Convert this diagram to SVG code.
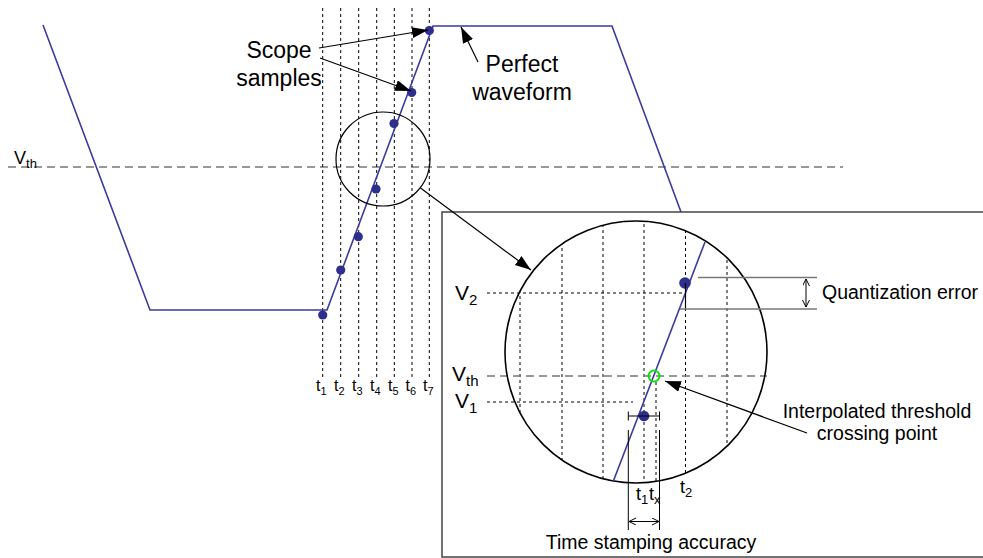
<svg xmlns="http://www.w3.org/2000/svg" width="983" height="558" viewBox="0 0 983 558">
<style>
text{font-family:"Liberation Sans",Arial,sans-serif;fill:#000}
.lbl{font-size:23px}
.mid{font-size:19.5px}
.wave{fill:none;stroke:#3a3aa0;stroke-width:1.6}
.dot{fill:#2e2e8e}
.vd{stroke:#000;stroke-width:1;stroke-dasharray:3,3;fill:none}
.th{stroke:#777;stroke-width:1.6;stroke-dasharray:8,5;fill:none}
.ar{stroke:#000;stroke-width:1.2;fill:none;marker-end:url(#ah)}
.dim{stroke:#000;stroke-width:1;fill:none}
.q{stroke:#777;stroke-width:1.6;fill:none}
</style>
<defs>
<marker id="ah" markerUnits="userSpaceOnUse" markerWidth="17" markerHeight="12" refX="16" refY="5.5" orient="auto"><path d="M0,0 L16,5.5 L0,11 z" fill="#000"/></marker>
<marker id="oa" markerUnits="userSpaceOnUse" markerWidth="8" markerHeight="8" refX="7" refY="3.5" orient="auto-start-reverse"><path d="M0,0 L7,3.5 L0,7" fill="none" stroke="#000" stroke-width="1"/></marker>
<clipPath id="cc"><circle cx="636" cy="352" r="131"/></clipPath>
</defs>
<rect width="983" height="558" fill="#fff"/>

<g id="threshold-line"><line class="th" x1="8" y1="167" x2="843" y2="167"/>
<text x="14" y="164" font-size="18">V<tspan font-size="13" dy="4">th</tspan></text></g>

<g id="sample-lines">
<line class="vd" x1="322.7" y1="8" x2="322.7" y2="377"/>
<line class="vd" x1="340.7" y1="8" x2="340.7" y2="377"/>
<line class="vd" x1="358.7" y1="8" x2="358.7" y2="377"/>
<line class="vd" x1="376.7" y1="8" x2="376.7" y2="377"/>
<line class="vd" x1="394.3" y1="8" x2="394.3" y2="377"/>
<line class="vd" x1="412" y1="8" x2="412" y2="377"/>
<line class="vd" x1="429.3" y1="8" x2="429.3" y2="377"/>
<g font-size="16">
<text x="316" y="391">t<tspan font-size="11" dy="4">1</tspan></text>
<text x="334" y="391">t<tspan font-size="11" dy="4">2</tspan></text>
<text x="352" y="391">t<tspan font-size="11" dy="4">3</tspan></text>
<text x="370" y="391">t<tspan font-size="11" dy="4">4</tspan></text>
<text x="388" y="391">t<tspan font-size="11" dy="4">5</tspan></text>
<text x="405.5" y="391">t<tspan font-size="11" dy="4">6</tspan></text>
<text x="423" y="391">t<tspan font-size="11" dy="4">7</tspan></text>
</g></g>

<g id="waveform">
<polyline class="wave" points="43,25 150,310 327,310 433,26 612,26 681,212"/>
</g>

<g id="samples">
<circle class="dot" cx="322.7" cy="315" r="4.6"/>
<circle class="dot" cx="340.7" cy="270" r="4.6"/>
<circle class="dot" cx="358.3" cy="236.7" r="4.6"/>
<circle class="dot" cx="376" cy="189" r="4.6"/>
<circle class="dot" cx="394" cy="123.5" r="4.6"/>
<circle class="dot" cx="411.7" cy="92.5" r="4.6"/>
<circle class="dot" cx="429.3" cy="30.5" r="4.6"/>
</g>

<g id="zoom-circle"><circle cx="383" cy="159" r="47" fill="none" stroke="#000" stroke-width="1.2"/></g>

<g id="scope-samples"><text class="lbl" text-anchor="middle"><tspan x="279" y="58">Scope</tspan><tspan x="279" y="86">samples</tspan></text></g>
<g id="perfect-waveform"><text class="lbl" text-anchor="middle"><tspan x="522" y="72">Perfect</tspan><tspan x="522" y="100">waveform</tspan></text></g>

<g id="detail-box">
<rect x="442" y="212" width="560" height="345" fill="#fff" stroke="#444" stroke-width="1.5"/>
<g clip-path="url(#cc)">
<line class="vd" x1="520" y1="200" x2="520" y2="500"/>
<line class="vd" x1="562" y1="200" x2="562" y2="500"/>
<line class="vd" x1="603" y1="200" x2="603" y2="500"/>
<line class="vd" x1="644" y1="200" x2="644" y2="500"/>
<line class="vd" x1="656" y1="382" x2="656" y2="500"/>
<line class="vd" x1="685.5" y1="200" x2="685.5" y2="500"/>
<line class="vd" x1="727" y1="200" x2="727" y2="500"/>
</g>
<line class="vd" x1="487" y1="293" x2="682" y2="293"/>
<line class="vd" x1="487" y1="402" x2="633" y2="402"/>
<line class="th" x1="487" y1="376" x2="767" y2="376"/>
<circle cx="636" cy="352" r="131" fill="none" stroke="#000" stroke-width="1.6"/>
<line class="wave" x1="613" y1="482" x2="705" y2="242"/>
<circle class="dot" cx="685" cy="283" r="5.8"/>
<circle class="dot" cx="644" cy="416" r="5.3"/>
<circle cx="654" cy="376" r="5.5" fill="none" stroke="#11dd11" stroke-width="2"/>
<line x1="685.5" y1="283" x2="685.5" y2="309" stroke="#000" stroke-width="1.2"/>
<text x="455" y="300" font-size="21">V<tspan font-size="15" dy="5">2</tspan></text>
<text x="452" y="381" font-size="21">V<tspan font-size="15" dy="5">th</tspan></text>
<text x="455" y="408" font-size="21">V<tspan font-size="15" dy="5">1</tspan></text>
<g font-size="18">
<text x="636" y="500">t<tspan font-size="13" dy="4">1</tspan></text>
<text x="649" y="500">t<tspan font-size="13" dy="4">x</tspan></text>
<text x="680" y="493">t<tspan font-size="13" dy="4">2</tspan></text>
</g>
</g>

<g id="quantization-error">
<line class="q" x1="698" y1="277.5" x2="817" y2="277.5"/>
<line class="q" x1="680" y1="309" x2="817" y2="309"/>
<line class="dim" x1="806" y1="279" x2="806" y2="307" marker-start="url(#oa)" marker-end="url(#oa)"/>
<text class="mid" x="822" y="299">Quantization error</text>
</g>

<g id="time-stamping">
<line class="dim" x1="628.3" y1="416" x2="659.5" y2="416"/>
<line class="dim" x1="628.3" y1="411.5" x2="628.3" y2="420.5"/>
<line class="dim" x1="659.5" y1="411.5" x2="659.5" y2="420.5"/>
<line class="dim" x1="628.3" y1="430" x2="628.3" y2="530"/>
<line class="dim" x1="659.5" y1="430" x2="659.5" y2="530"/>
<line class="dim" x1="629" y1="521.5" x2="659" y2="521.5" marker-start="url(#oa)" marker-end="url(#oa)"/>
<text class="mid" x="651" y="549" text-anchor="middle">Time stamping accuracy</text>
</g>

<g id="interpolated"><text class="mid" text-anchor="middle"><tspan x="877" y="418">Interpolated threshold</tspan><tspan x="877" y="440">crossing point</tspan></text></g>

<g id="connectors">
<line class="ar" x1="319" y1="48" x2="428" y2="30"/>
<line class="ar" x1="320" y1="58" x2="411" y2="91"/>
<line class="ar" x1="478" y1="62" x2="461" y2="27"/>
<line class="ar" x1="420.5" y1="188" x2="531" y2="270"/>
<line class="ar" x1="807" y1="433" x2="665" y2="381"/>
</g>
</svg>
